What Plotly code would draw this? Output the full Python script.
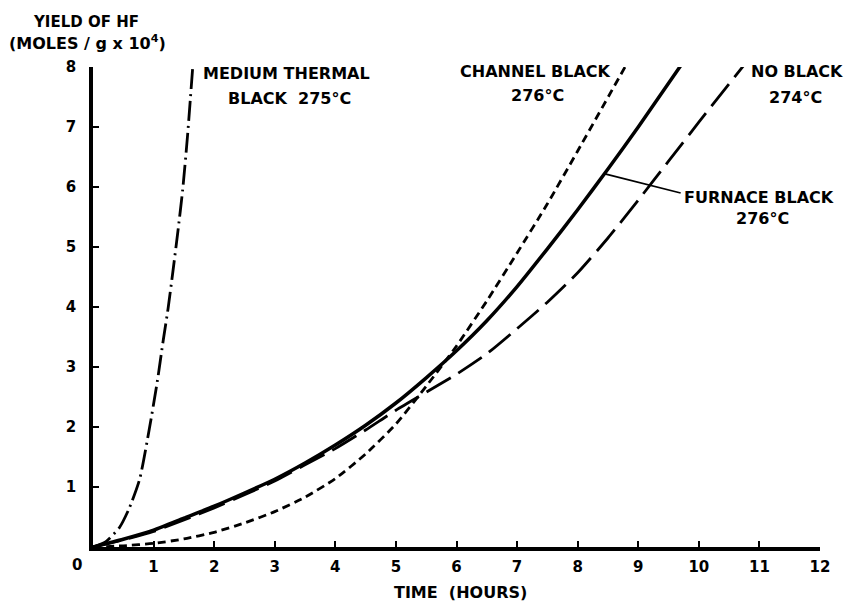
import plotly.graph_objects as go

# ---- data (hours, moles/g x 10^4) ----
medium_x = [0, 0.2, 0.44, 0.6, 0.77, 0.93, 1.06, 1.16, 1.24, 1.32, 1.40, 1.48, 1.56, 1.65]
medium_y = [0, 0.08, 0.33, 0.65, 1.13, 1.97, 2.75, 3.45, 3.98, 4.6, 5.25, 5.95, 6.85, 8.05]

channel_x = [0, 0.5, 1, 1.5, 2, 2.5, 3, 3.5, 4, 4.5, 5, 5.5, 6, 6.5, 7, 7.5, 8, 8.81]
channel_y = [0, 0.02, 0.06, 0.135, 0.245, 0.4, 0.59, 0.83, 1.14, 1.55, 2.05, 2.68, 3.35, 4.1, 4.9, 5.72, 6.6, 8.05]

furnace_x = [0, 0.5, 1, 1.5, 2, 2.5, 3, 3.5, 4, 4.5, 5, 5.5, 6, 6.5, 7, 7.5, 8, 8.5, 9, 9.72]
furnace_y = [0, 0.13, 0.28, 0.48, 0.68, 0.9, 1.13, 1.4, 1.7, 2.03, 2.4, 2.82, 3.27, 3.77, 4.34, 4.97, 5.62, 6.3, 7.0, 8.05]

noblack_x = [0, 0.5, 1, 1.5, 2, 2.5, 3, 3.5, 4, 4.5, 5, 5.5, 6, 6.5, 7, 7.5, 8, 8.5, 9, 9.5, 10, 10.76]
noblack_y = [0, 0.12, 0.26, 0.45, 0.65, 0.87, 1.1, 1.37, 1.64, 1.95, 2.28, 2.58, 2.88, 3.22, 3.64, 4.08, 4.57, 5.15, 5.78, 6.43, 7.08, 8.05]

x_ticks = list(range(1, 13))
y_ticks = list(range(1, 9))

FONT = "DejaVu Sans"
fs = 16
tfs = 15

fig = go.Figure()
fig.add_trace(go.Scatter(x=medium_x, y=medium_y, mode="lines",
                         line=dict(color="black", width=2.8, dash="20px,5px,2px,5px", shape="spline", smoothing=0.6)))
fig.add_trace(go.Scatter(x=channel_x, y=channel_y, mode="lines",
                         line=dict(color="black", width=2.8, dash="8px,5px", shape="spline", smoothing=0.6)))
fig.add_trace(go.Scatter(x=furnace_x, y=furnace_y, mode="lines",
                         line=dict(color="black", width=3.5, shape="spline", smoothing=0.6)))
fig.add_trace(go.Scatter(x=noblack_x, y=noblack_y, mode="lines",
                         line=dict(color="black", width=2.8, dash="28px,9px", shape="spline", smoothing=0.6)))

ann = []
def txt(x, y, t, xref="x", yref="y", size=fs, **kw):
    d = dict(x=x, y=y, xref=xref, yref=yref, text=t, showarrow=False,
             xanchor="center", yanchor="middle",
             font=dict(family=FONT, size=size, color="black", weight="bold"))
    d.update(kw)
    ann.append(d)

txt(3.2, 7.9, "MEDIUM THERMAL")
txt(3.25, 7.48, "BLACK  275°C")
txt(7.31, 7.92, "CHANNEL BLACK")
txt(7.33, 7.53, "276°C")
txt(11.62, 7.92, "NO BLACK")
txt(11.6, 7.5, "274°C")
txt(11.0, 5.83, "FURNACE BLACK")
txt(11.05, 5.48, "276°C")
txt(0, 0, "0", yref="paper", yshift=-18, xshift=-16, size=tfs)
txt(-0.0096, 1.094, "YIELD OF HF", xref="paper", yref="paper", size=15)
txt(-0.0069, 1.05, "(MOLES / g x 10<sup>4</sup>)", xref="paper", yref="paper")
txt(0.505, -0.094, "TIME  (HOURS)", xref="paper", yref="paper")

fig.add_shape(type="line", x0=8.45, y0=6.22, x1=9.7, y1=5.9,
              line=dict(color="black", width=1.8))

fig.update_layout(
    width=848, height=603,
    margin=dict(l=93, r=28, t=67, b=56),
    paper_bgcolor="white", plot_bgcolor="white",
    showlegend=False,
    annotations=ann,
    font=dict(family=FONT, size=fs, color="black"),
)
fig.update_xaxes(range=[0, 12], showgrid=False, zeroline=False, automargin=False,
                 showline=True, linecolor="black", linewidth=3.5,
                 ticks="inside", ticklen=6, tickwidth=2, tickcolor="black",
                 tickvals=x_ticks, ticktext=[str(v) for v in x_ticks],
                 tickfont=dict(family=FONT, size=tfs, weight="bold"), ticklabelstandoff=3)
fig.update_yaxes(range=[0, 8], showgrid=False, zeroline=False, automargin=False,
                 showline=True, linecolor="black", linewidth=3.5,
                 ticks="inside", ticklen=6, tickwidth=2, tickcolor="black",
                 tickvals=y_ticks, ticktext=[str(v) for v in y_ticks],
                 tickfont=dict(family=FONT, size=tfs, weight="bold"), ticklabelstandoff=10)

fig.write_html("out.html", config={"displayModeBar": False},
               post_script="document.body.style.margin='0';")
